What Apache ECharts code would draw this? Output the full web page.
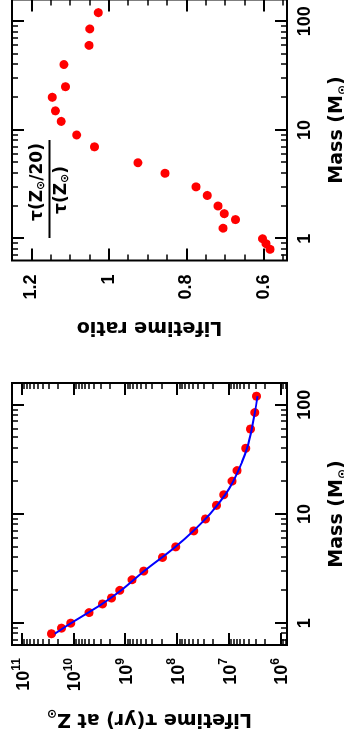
<!DOCTYPE html>
<html>
<head>
<meta charset="utf-8">
<script src="https://cdn.jsdelivr.net/npm/echarts@6/dist/echarts.min.js"></script>
<style>
  html, body { margin: 0; padding: 0; background: #fff; overflow: hidden; }
  /* the figure is drawn landscape and turned a quarter turn, like the reference */
  #main {
    position: absolute; left: 0; top: 0;
    width: 738px; height: 344px;
    transform-origin: 0 0;
    transform: translate(0, 738px) rotate(-90deg);
  }
</style>
</head>
<body>
<div id="main"></div>
<script>
// stellar masses (Msun) of the models
const masses = [0.8, 0.9, 1, 1.25, 1.5, 1.7, 2, 2.5, 3, 4, 5, 7, 9, 12, 15, 20, 25, 40, 60, 85, 120];
// lifetime at solar metallicity (yr)
const lifetimes = [2.67e10, 1.71e10, 1.13e10, 4.99e9, 2.75e9, 1.84e9, 1.27e9, 7.36e8, 4.37e8, 1.9e8,
  1.05e8, 4.71e7, 2.8e7, 1.71e7, 1.24e7, 8.55e6, 6.85e6, 4.65e6, 3.77e6, 3.11e6, 2.88e6];
// tau(Zsun/20) / tau(Zsun)
const ratios = [0.584, 0.594, 0.603, 0.705, 0.673, 0.702, 0.718, 0.746, 0.775, 0.855, 0.925,
  1.037, 1.083, 1.123, 1.138, 1.146, 1.112, 1.116, 1.051, 1.049, 1.027];
// blue fit curve
const fitMass = [0.8, 1, 1.25, 1.5, 2, 3, 5, 7, 10, 15, 20, 30, 40, 60, 85, 120];
const fitLifetime = [2.3e10, 1.12e10, 5.2e9, 2.8e9, 1.2e9, 4.3e8, 1.07e8, 4.8e7, 2.3e7, 1.17e7,
  8.1e6, 5.5e6, 4.4e6, 3.55e6, 3.1e6, 2.75e6];

// ticks
const massMajor = [1, 10, 100];
const massMinor = [0.7, 0.8, 0.9, 2, 3, 4, 5, 6, 7, 8, 9, 20, 30, 40, 50, 60, 70, 80, 90];
const tauMajor = [1e6, 1e7, 1e8, 1e9, 1e10, 1e11];
const tauMinor = [8e5, 9e5];
for (let e = 6; e <= 10; e++) for (let k = 2; k <= 9; k++) tauMinor.push(k * Math.pow(10, e));
const ratioMajor = [0.6, 0.8, 1.0, 1.2];
const ratioMinor = [0.55, 0.65, 0.7, 0.75, 0.85, 0.9, 0.95, 1.05, 1.1, 1.15];

const LABEL_FONT = '"Liberation Sans", Arial, sans-serif';
const NAME_FONT = '"DejaVu Sans", sans-serif';
const lg = Math.log10;

const massRange = [-0.2, 2.2];      // log10 Msun
const tauRange = [5.87, 11.19];      // log10 yr
const ratioRange = [0.54, 1.25];

const xAxes = [];
const yAxes = [];

function addAxis(list, grid, pos, range, ticks, len, extra) {
  list.push(Object.assign({
    type: 'value', gridIndex: grid, position: pos,
    min: range[0], max: range[1],
    axisLine: { show: false, onZero: false },
    splitLine: { show: false },
    axisTick: { show: true, inside: true, length: len, customValues: ticks,
      lineStyle: { color: '#000', width: len > 8 ? 2 : 1.5 } },
    axisLabel: { show: false }
  }, extra || {}));
  return list.length - 1;
}

const nameStyle = {
  fontFamily: NAME_FONT, fontWeight: 'bold', fontSize: 19, color: '#000', lineHeight: 24,
  rich: { sub: { fontFamily: NAME_FONT, fontWeight: 'bold', fontSize: 12, lineHeight: 12,
    verticalAlign: 'bottom', color: '#000' } }
};
const labelBase = { show: true, fontFamily: LABEL_FONT, fontWeight: 'bold', fontSize: 18, color: '#000' };

function massAxes(grid) {
  const main = addAxis(xAxes, grid, 'bottom', massRange, massMajor.map(lg), 12, {
    name: 'Mass (M{sub|⊙})', nameLocation: 'middle', nameGap: 38, nameMoveOverlap: false,
    nameTextStyle: nameStyle,
    axisLabel: Object.assign({}, labelBase, { customValues: massMajor.map(lg), margin: 9,
      formatter: v => String(Math.round(Math.pow(10, v))) })
  });
  addAxis(xAxes, grid, 'bottom', massRange, massMinor.map(lg), 6);
  addAxis(xAxes, grid, 'top', massRange, massMajor.map(lg), 12);
  addAxis(xAxes, grid, 'top', massRange, massMinor.map(lg), 6);
  return main;
}

// panel 1: lifetimes
const xLife = massAxes(0);
const yLife = addAxis(yAxes, 0, 'left', tauRange, tauMajor.map(lg), 12, {
  name: 'Lifetime τ(yr) at Z{sub|⊙}', nameLocation: 'middle', nameGap: 62, nameMoveOverlap: false,
  nameTextStyle: nameStyle,
  axisLabel: Object.assign({}, labelBase, { customValues: tauMajor.map(lg), margin: 13,
    formatter: v => '{b|10}{s|' + Math.round(v) + '}',
    rich: {
      b: { fontFamily: LABEL_FONT, fontWeight: 'bold', fontSize: 18, lineHeight: 22, verticalAlign: 'bottom', color: '#000' },
      s: { fontFamily: LABEL_FONT, fontWeight: 'bold', fontSize: 12, lineHeight: 12, verticalAlign: 'top', color: '#000' }
    } })
});
addAxis(yAxes, 0, 'left', tauRange, tauMinor.map(lg), 6);
addAxis(yAxes, 0, 'right', tauRange, tauMajor.map(lg), 12);
addAxis(yAxes, 0, 'right', tauRange, tauMinor.map(lg), 6);

// panel 2: lifetime ratio
const xRatio = massAxes(1);
const yRatio = addAxis(yAxes, 1, 'left', ratioRange, ratioMajor, 12, {
  name: 'Lifetime ratio', nameLocation: 'middle', nameGap: 54, nameMoveOverlap: false,
  nameTextStyle: nameStyle,
  axisLabel: Object.assign({}, labelBase, { customValues: ratioMajor, margin: 14,
    formatter: v => String(+v.toFixed(2)) })
});
addAxis(yAxes, 1, 'left', ratioRange, ratioMinor, 6);
addAxis(yAxes, 1, 'right', ratioRange, ratioMajor, 12);
addAxis(yAxes, 1, 'right', ratioRange, ratioMinor, 6);

const gridStyle = { show: true, borderColor: '#000', borderWidth: 2, backgroundColor: 'transparent',
  containLabel: false, outerBoundsMode: 'none' };

const chart = echarts.init(document.getElementById('main'), null, { renderer: 'canvas' });
chart.setOption({
  animation: false,
  backgroundColor: '#fff',
  grid: [
    Object.assign({ left: 93, top: 12, width: 262, height: 275 }, gridStyle),
    Object.assign({ left: 477.5, top: 12, width: 261, height: 275 }, gridStyle)
  ],
  xAxis: xAxes,
  yAxis: yAxes,
  graphic: [
    { type: 'text', x: 556, y: 38, z: 10,
      style: { text: 'τ(Z{s|⊙}/20)', align: 'center', verticalAlign: 'middle',
        font: 'bold 17px ' + NAME_FONT, fill: '#000',
        rich: { s: { fontSize: 11, fontWeight: 'bold', fontFamily: NAME_FONT, lineHeight: 11, verticalAlign: 'bottom', fill: '#000' } } } },
    { type: 'line', z: 10, shape: { x1: 500, y1: 49.5, x2: 598, y2: 49.5 },
      style: { stroke: '#000', lineWidth: 2 } },
    { type: 'text', x: 548, y: 62, z: 10,
      style: { text: 'τ(Z{s|⊙})', align: 'center', verticalAlign: 'middle',
        font: 'bold 17px ' + NAME_FONT, fill: '#000',
        rich: { s: { fontSize: 11, fontWeight: 'bold', fontFamily: NAME_FONT, lineHeight: 11, verticalAlign: 'bottom', fill: '#000' } } } }
  ],
  series: [
    {
      name: 'lifetime', type: 'scatter', xAxisIndex: xLife, yAxisIndex: yLife,
      symbolSize: 9, itemStyle: { color: '#ff0000', opacity: 1 },
      data: masses.map((m, i) => [lg(m), lg(lifetimes[i])])
    },
    {
      name: 'fit', type: 'line', xAxisIndex: xLife, yAxisIndex: yLife, z: 3,
      smooth: 0.4, showSymbol: false, symbol: 'none',
      lineStyle: { color: '#0000ff', width: 2 },
      data: fitMass.map((m, i) => [lg(m), lg(fitLifetime[i])])
    },
    {
      name: 'ratio', type: 'scatter', xAxisIndex: xRatio, yAxisIndex: yRatio,
      symbolSize: 9, itemStyle: { color: '#ff0000', opacity: 1 },
      data: masses.map((m, i) => [lg(m), ratios[i]])
    }
  ]
});
</script>
</body>
</html>
